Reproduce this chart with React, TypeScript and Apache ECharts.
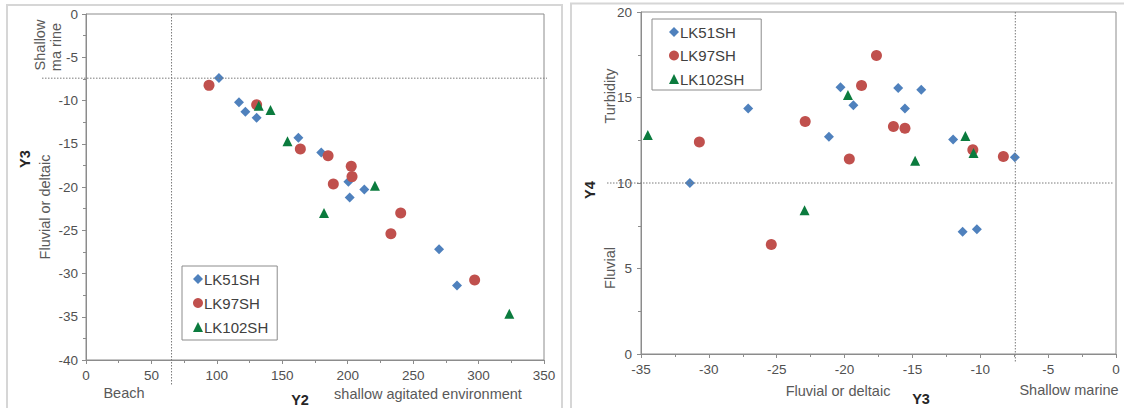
import React, { useEffect, useRef } from 'react';
import * as echarts from 'echarts';

const seriesNames = ['LK51SH', 'LK97SH', 'LK102SH'];

// Left chart: Y2 (x) vs Y3 (y)
const lk51Y2Y3 = [[101.6, -7.4], [116.9, -10.2], [121.8, -11.3], [130.4, -12.0], [162.3, -14.3], [179.8, -16.0], [200.5, -19.4], [212.7, -20.3], [201.5, -21.2], [269.8, -27.2], [283.5, -31.4]];
const lk97Y2Y3 = [[94, -8.25], [130.4, -10.5], [163.8, -15.6], [185, -16.4], [202.7, -17.6], [203.3, -18.8], [189, -19.65], [240.5, -23.0], [233, -25.4], [297, -30.75]];
const lk102Y2Y3 = [[132, -10.6], [141, -11.1], [154, -14.7], [220.8, -19.85], [181.9, -23.0], [323.5, -34.65]];

// Right chart: Y3 (x) vs Y4 (y)
const lk51Y3Y4 = [[-31.4, 10.0], [-27.1, 14.35], [-21.15, 12.7], [-20.3, 15.6], [-19.35, 14.55], [-16.05, 15.55], [-15.55, 14.35], [-14.35, 15.45], [-12.0, 12.55], [-11.3, 7.15], [-10.25, 7.3], [-7.45, 11.5]];
const lk97Y3Y4 = [[-30.7, 12.4], [-25.4, 6.4], [-22.9, 13.6], [-19.65, 11.4], [-18.75, 15.7], [-17.65, 17.45], [-16.4, 13.3], [-15.55, 13.2], [-10.55, 11.95], [-8.3, 11.55]];
const lk102Y3Y4 = [[-34.5, 12.8], [-22.95, 8.4], [-19.75, 15.15], [-14.8, 11.3], [-11.1, 12.75], [-10.5, 11.75]];

// Discriminant thresholds
const y2Threshold = 65.365;
const y3Threshold = -7.419;
const y4Threshold = 10;

// Axis ranges
const leftXRange = [0, 350, 50];
const leftYRange = [-40, 0, 5];
const rightXRange = [-35, 0, 5];
const rightYRange = [0, 20, 5];

const FONT = 'Liberation Sans, Arial, sans-serif';
const AXIS_COLOR = '#8c8c8c';
const LABEL_COLOR = '#595959';
const COLORS = ['#4F81BD', '#C0504D', '#0B7B3E'];
const SYMBOLS = ['diamond', 'circle', 'triangle'];
const SIZES = [10, 11, 10];

function axis(range: number[], gridIndex: number, margin: number) {
  return {
    type: 'value',
    gridIndex,
    min: range[0],
    max: range[1],
    interval: range[2],
    axisLine: { show: true, onZero: false, lineStyle: { color: AXIS_COLOR, width: 1 } },
    axisTick: { show: true, length: 4, lineStyle: { color: AXIS_COLOR } },
    minorTick: { show: true, splitNumber: 2, length: 3, lineStyle: { color: AXIS_COLOR } },
    splitLine: { show: false },
    axisLabel: { color: '#505050', fontSize: 13.5, fontFamily: FONT, margin },
  };
}

function text(t: string, x: number, y: number, opts: any = {}) {
  return {
    type: 'text',
    x,
    y,
    rotation: opts.rot ? Math.PI / 2 : 0,
    silent: true,
    z: 10,
    style: {
      text: t,
      fontSize: opts.size || 14.5,
      fontWeight: opts.bold ? 'bold' : 'normal',
      fontFamily: FONT,
      fill: opts.bold ? '#262626' : LABEL_COLOR,
      align: 'center',
      verticalAlign: 'middle',
    },
  };
}

function dotted(x1: number, y1: number, x2: number, y2: number) {
  return {
    type: 'line',
    silent: true,
    z: 5,
    shape: { x1, y1, x2, y2 },
    style: { stroke: '#7a7a7a', lineWidth: 1, lineDash: [1.5, 1.5] },
  };
}

export default function App() {
  const ref = useRef<HTMLDivElement>(null);
  useEffect(() => {
    if (!ref.current) return;
    const chart = echarts.init(ref.current, null, { renderer: 'svg' });
    const leftData = [lk51Y2Y3, lk97Y2Y3, lk102Y2Y3];
    const rightData = [lk51Y3Y4, lk97Y3Y4, lk102Y3Y4];
    const series: any[] = [];
    [leftData, rightData].forEach((set, gi) => {
      set.forEach((d, i) => {
        series.push({
          type: 'scatter',
          name: seriesNames[i],
          xAxisIndex: gi,
          yAxisIndex: gi,
          data: d,
          symbol: SYMBOLS[i],
          symbolSize: SIZES[i],
          itemStyle: { color: COLORS[i], opacity: 1 },
          z: 3 + i,
        });
      });
    });
    const legendBase = {
      data: seriesNames,
      orient: 'vertical',
      itemWidth: 10,
      itemHeight: 10,
      borderColor: AXIS_COLOR,
      borderWidth: 1,
      backgroundColor: '#fff',
      textStyle: { fontSize: 15, color: '#404040', fontFamily: FONT, lineHeight: 16, padding: [0, 0, 0, -4] },
      selectedMode: false,
    };
    chart.setOption({
      animation: false,
      backgroundColor: '#fff',
      grid: [
        { left: 86, top: 14, width: 458, height: 346, show: true, borderColor: AXIS_COLOR, borderWidth: 1, backgroundColor: '#fff' },
        { left: 641, top: 12, width: 475, height: 342, show: true, borderColor: AXIS_COLOR, borderWidth: 1, backgroundColor: '#fff' },
      ],
      xAxis: [axis(leftXRange, 0, 8), axis(rightXRange, 1, 8)],
      yAxis: [axis(leftYRange, 0, 8), axis(rightYRange, 1, 9)],
      legend: [
        { ...legendBase, left: 182, top: 266, padding: [5, 9, 5, 11], itemGap: 8 },
        { ...legendBase, left: 652, top: 19, padding: [5, 17, 3, 17], itemGap: 7.5 },
      ],
      series,
    });
    const p1 = chart.convertToPixel({ gridIndex: 0 } as any, [y2Threshold, y3Threshold]) as number[];
    const p2 = chart.convertToPixel({ gridIndex: 1 } as any, [y3Threshold, y4Threshold]) as number[];
    chart.setOption({
      graphic: [
        { type: 'rect', silent: true, z: -1, shape: { x: 7, y: 5, width: 555, height: 410 }, style: { fill: 'none', stroke: '#d6d6d6', lineWidth: 2 } },
        { type: 'rect', silent: true, z: -1, shape: { x: 571, y: 3.5, width: 565, height: 410 }, style: { fill: 'none', stroke: '#d6d6d6', lineWidth: 2 } },
        dotted(42, p1[1], 547, p1[1]),
        dotted(p1[0], 14, p1[0], 385),
        dotted(607, p2[1], 1114, p2[1]),
        dotted(p2[0], 12, p2[0], 363),
        text('Shallow', 40, 45, { rot: true }),
        text('ma rine', 56, 47, { rot: true }),
        text('Y3', 25, 159, { rot: true, bold: true }),
        text('Fluvial or deltaic', 45, 207, { rot: true }),
        text('Beach', 124, 393),
        text('Y2', 300, 400, { bold: true }),
        text('shallow agitated environment', 428, 394),
        text('Turbidity', 610, 96, { rot: true }),
        text('Y4', 590, 190, { rot: true, bold: true }),
        text('Fluvial', 610, 268, { rot: true }),
        text('Fluvial or deltaic', 838, 391),
        text('Y3', 921, 399, { bold: true }),
        text('Shallow marine', 1069, 390),
      ],
    });
    return () => chart.dispose();
  }, []);
  return (
    <div
      ref={ref}
      style={{ position: 'fixed', left: 0, top: 0, width: 1124, height: 408, background: '#fff' }}
    />
  );
}
